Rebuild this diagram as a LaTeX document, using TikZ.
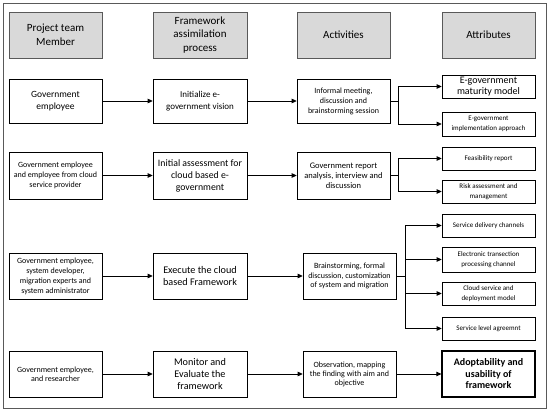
\documentclass[tikz,border=0pt]{standalone}
\usepackage{fontspec}
\setmainfont{Carlito}
\usetikzlibrary{arrows.meta}
\definecolor{hdrfill}{HTML}{D9D9D9}
\definecolor{framecol}{HTML}{595959}
\newcommand{\fsz}[2]{\fontsize{#1}{#2}\selectfont}
\tikzset{
  box/.style={draw=black, line width=0.6pt, fill=white, inner sep=0pt, align=center,
    minimum width=93pt, minimum height=46pt, anchor=center},
  hdr/.style={box, fill=hdrfill, draw=framecol, font=\fsz{11}{13.5}},
  attrbox/.style={box, minimum height=23pt},
  conn/.style={line width=0.8pt, -{Triangle[length=5pt,width=4.5pt]}},
  plain/.style={line width=0.8pt}
}
\begin{document}
\begin{tikzpicture}[x=1pt,y=-1pt]
\useasboundingbox (0,0) rectangle (550,413);
\draw[framecol, line width=0.8pt] (3,3) rectangle (546,408);
% headers
\node[hdr] (h1) at (55.5,35) {Project team\\Member};
\node[hdr, minimum width=94pt] (h2) at (200,35) {Framework\\assimilation\\process};
\node[hdr] (h3) at (343.5,35) {Activities};
\node[hdr] (h4) at (488.5,35) {Attributes};
% row 1
\node[box, minimum height=44pt, font=\fsz{9.5}{11.5}] (m1) at (55.5,101) {Government\\employee};
\node[box, minimum height=44pt, minimum width=94pt, font=\fsz{9}{11.5}] (p1) at (200,101) {Initialize e-\\government vision};
\node[box, minimum height=44pt, font=\fsz{8}{10}] (a1) at (343.5,101) {Informal meeting,\\discussion and\\brainstorming session};
\node[attrbox, font=\fsz{10}{11}] (t1a) at (488.5,86.5) {E-government\\maturity model};
\node[attrbox, minimum height=24pt, font=\fsz{7}{9.5}] (t1b) at (488.5,124) {E-government\\implementation approach};
% row 2
\node[box, minimum height=47pt, font=\fsz{8}{10}] (m2) at (55.5,175.5) {Government employee\\and employee from cloud\\service provider};
\node[box, minimum height=47pt, minimum width=94pt, font=\fsz{9.8}{12}] (p2) at (200,175.5) {Initial assessment for\\cloud based e-\\government};
\node[box, minimum height=47pt, font=\fsz{8.5}{10}] (a2) at (343.5,175.5) {Government report\\analysis, interview and\\discussion};
\node[attrbox, font=\fsz{7}{9.5}] (t2a) at (488.5,158.5) {Feasibility report};
\node[attrbox, font=\fsz{7}{9.5}] (t2b) at (488.5,191.5) {Risk assessment and\\management};
% row 3
\node[box, font=\fsz{8}{10}] (m3) at (55.5,276) {Government employee,\\system developer,\\migration experts and\\system administrator};
\node[box, minimum width=94pt, font=\fsz{10.2}{12}] (p3) at (200,276) {Execute the cloud\\based Framework};
\node[box, font=\fsz{8}{9.8}] (a3) at (349.5,276) {Brainstorming, formal\\discussion, customization\\of system and migration};
\node[attrbox, font=\fsz{7}{9.5}] (t3a) at (488.5,225.5) {Service delivery channels};
\node[attrbox, minimum height=25pt, font=\fsz{7}{9.5}] (t3b) at (488.5,259.5) {Electronic transection\\processing channel};
\node[attrbox, font=\fsz{7}{9.5}] (t3c) at (488.5,293.5) {Cloud service and\\deployment model};
\node[attrbox, font=\fsz{7}{9.5}] (t3d) at (488.5,328.5) {Service level agreemnt};
% row 4
\node[box, font=\fsz{8}{9.5}] (m4) at (55.5,374) {Government employee,\\and researcher};
\node[box, minimum width=94pt, font=\fsz{10.2}{12}] (p4) at (200,374) {Monitor and\\Evaluate the\\framework};
\node[box, font=\fsz{8}{9}] (a4) at (349.5,374) {Observation, mapping\\the finding with aim and\\objective};
\node[box, line width=1.2pt, font=\fsz{10}{11.5}\bfseries] (t4) at (488.5,374) {Adoptability and\\usability of\\framework};
% main arrows
\draw[conn] (m1) -- (p1);
\draw[conn] (p1) -- (a1);
\draw[conn] (m2) -- (p2);
\draw[conn] (p2) -- (a2);
\draw[conn] (m3) -- (p3);
\draw[conn] (p3) -- (a3);
\draw[conn] (m4) -- (p4);
\draw[conn] (p4) -- (a4);
\draw[conn] (a4) -- (t4);
% branches
\coordinate (b1) at (398,101);
\draw[plain] (a1.east) -- (b1);
\draw[conn] (b1) |- (t1a.west);
\draw[conn] (b1) |- (t1b.west);
\coordinate (b2) at (398,175.5);
\draw[plain] (a2.east) -- (b2);
\draw[conn] (b2) |- (t2a.west);
\draw[conn] (b2) |- (t2b.west);
\coordinate (b3) at (405,276);
\draw[plain] (a3.east) -- (b3);
\draw[conn] (b3) |- (t3a.west);
\draw[conn] (b3) |- (t3b.west);
\draw[conn] (b3) |- (t3c.west);
\draw[conn] (b3) |- (t3d.west);
\end{tikzpicture}
\end{document}
